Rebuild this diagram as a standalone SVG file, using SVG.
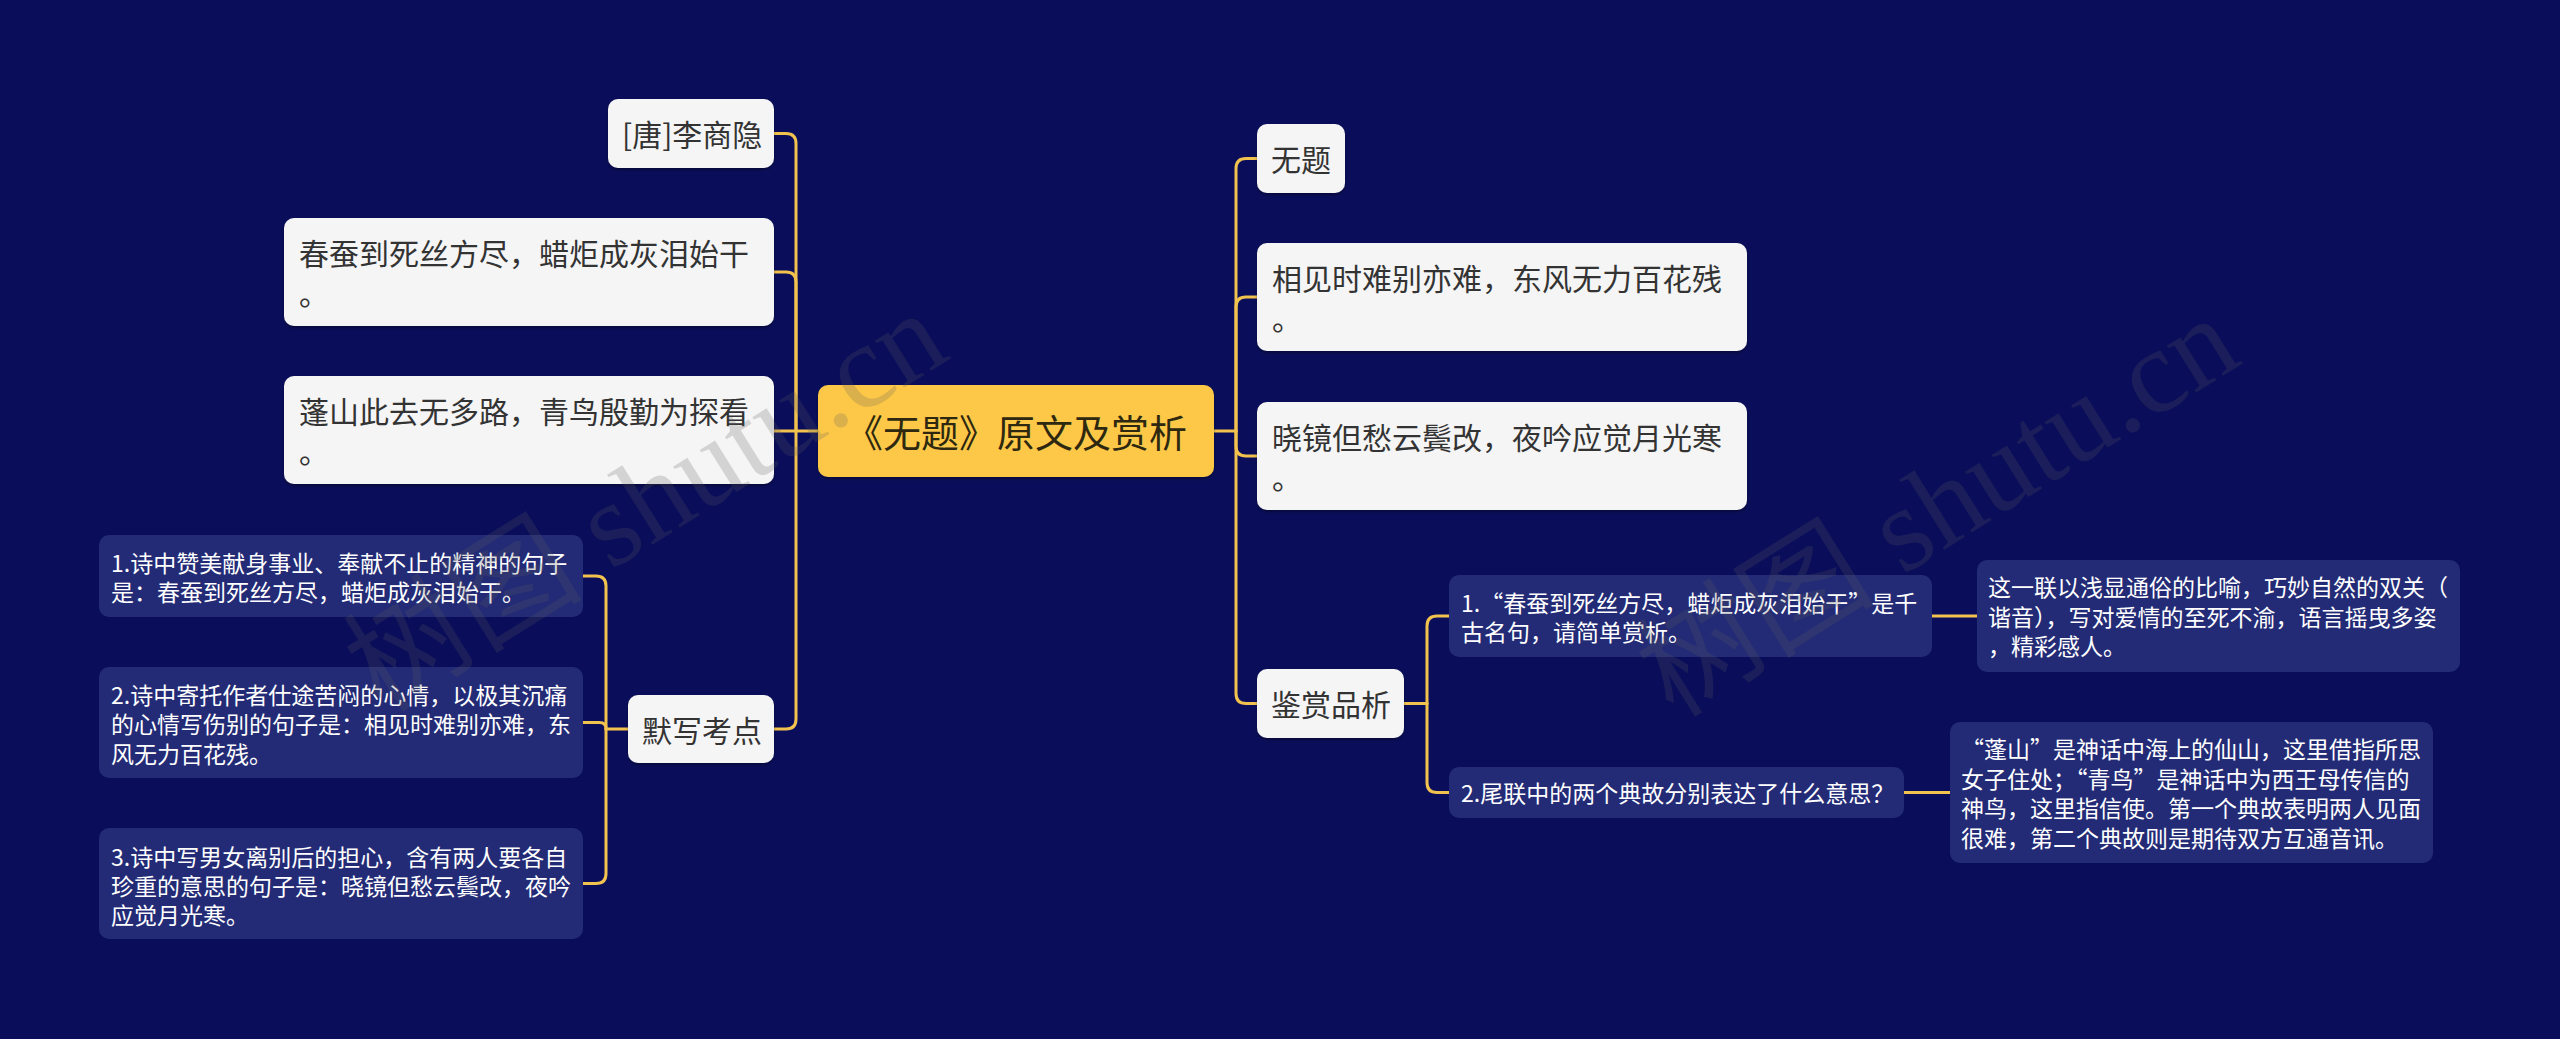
<svg xmlns="http://www.w3.org/2000/svg" width="2560" height="1039" viewBox="0 0 2560 1039">
<defs>
<style>
.bg{fill:#0A0E5A}
.lt{fill:#F5F5F5}
.dk{fill:#232B76}
.rt{fill:#FDC847}
.t30{font-family:"Noto Sans CJK SC","Microsoft YaHei",sans-serif;font-size:30px;fill:#333333}
.t23{font-family:"Noto Sans CJK SC","Microsoft YaHei",sans-serif;font-size:23px;fill:#FFFFFF}
.troot{font-family:"Noto Sans CJK SC","Microsoft YaHei",sans-serif;font-size:38px;fill:#2E2810}
.wm{font-family:"Liberation Serif","Noto Sans CJK SC",serif;font-size:120px;fill:#5A5A5A;fill-opacity:0.22}
#connectors path{fill:none;stroke:#F2C24F;stroke-width:3;stroke-linecap:round}
</style>
<filter id="sh" x="-5%" y="-10%" width="110%" height="130%">
<feDropShadow dx="0" dy="2" stdDeviation="1.5" flood-color="#000000" flood-opacity="0.35"/>
</filter>
</defs>
<rect class="bg" x="0" y="0" width="2560" height="1039"/>

<g id="connectors">
<path d="M818 431H774"/>
<path d="M796 431V143.5Q796 133.5 786 133.5H774"/>
<path d="M796 431V282Q796 272 786 272H774"/>
<path d="M796 431V719Q796 729 786 729H774"/>
<path d="M1214 431H1236"/>
<path d="M1236 431V168.5Q1236 158.5 1246 158.5H1257"/>
<path d="M1236 431V307Q1236 297 1246 297H1257"/>
<path d="M1236 431V446Q1236 456 1246 456H1257"/>
<path d="M1236 431V693.5Q1236 703.5 1246 703.5H1257"/>
<path d="M628 729H606"/>
<path d="M606 729V586Q606 576 596 576H583"/>
<path d="M606 729Q606 722.5 599.5 722.5H583"/>
<path d="M606 729V873.5Q606 883.5 596 883.5H583"/>
<path d="M1404 703.5H1427"/>
<path d="M1427 703.5V626Q1427 616 1437 616H1449"/>
<path d="M1427 703.5V782.5Q1427 792.5 1437 792.5H1449"/>
<path d="M1932 616H1977"/>
<path d="M1904 792.5H1950"/>
</g>

<g id="root">
<rect class="rt" x="818" y="385" width="396" height="92" rx="10" filter="url(#sh)"/>
<text class="troot" x="1016" y="447" text-anchor="middle">《无题》原文及赏析</text>
</g>

<g id="n-author">
<rect class="lt" x="608" y="99" width="166" height="69" rx="10" filter="url(#sh)"/>
<text class="t30" x="622" y="146">[唐]李商隐</text>
</g>
<g id="n-line1">
<rect class="lt" x="284" y="218" width="490" height="108" rx="10" filter="url(#sh)"/>
<text class="t30" x="299" y="265"><tspan x="299" y="265">春蚕到死丝方尽，蜡炬成灰泪始干</tspan><tspan x="299" y="305">。</tspan></text>
</g>
<g id="n-line2">
<rect class="lt" x="284" y="376" width="490" height="108" rx="10" filter="url(#sh)"/>
<text class="t30" x="299" y="423"><tspan x="299" y="423">蓬山此去无多路，青鸟殷勤为探看</tspan><tspan x="299" y="463">。</tspan></text>
</g>
<g id="n-moxie">
<rect class="lt" x="628" y="695" width="146" height="68" rx="10" filter="url(#sh)"/>
<text class="t30" x="642" y="742">默写考点</text>
</g>
<g id="n-mx1">
<rect class="dk" x="99" y="535" width="484" height="82" rx="10"/>
<text class="t23"><tspan x="111" y="572">1.诗中赞美献身事业、奉献不止的精神的句子</tspan><tspan x="111" y="601.3">是：春蚕到死丝方尽，蜡炬成灰泪始干。</tspan></text>
</g>
<g id="n-mx2">
<rect class="dk" x="99" y="667" width="484" height="111" rx="10"/>
<text class="t23"><tspan x="111" y="704">2.诗中寄托作者仕途苦闷的心情，以极其沉痛</tspan><tspan x="111" y="733.3">的心情写伤别的句子是：相见时难别亦难，东</tspan><tspan x="111" y="762.6">风无力百花残。</tspan></text>
</g>
<g id="n-mx3">
<rect class="dk" x="99" y="828" width="484" height="111" rx="10"/>
<text class="t23"><tspan x="111" y="865.5">3.诗中写男女离别后的担心，含有两人要各自</tspan><tspan x="111" y="894.8">珍重的意思的句子是：晓镜但愁云鬓改，夜吟</tspan><tspan x="111" y="924">应觉月光寒。</tspan></text>
</g>

<g id="n-title">
<rect class="lt" x="1257" y="124" width="88" height="69" rx="10" filter="url(#sh)"/>
<text class="t30" x="1271" y="171">无题</text>
</g>
<g id="n-line3">
<rect class="lt" x="1257" y="243" width="490" height="108" rx="10" filter="url(#sh)"/>
<text class="t30"><tspan x="1272" y="290">相见时难别亦难，东风无力百花残</tspan><tspan x="1272" y="330">。</tspan></text>
</g>
<g id="n-line4">
<rect class="lt" x="1257" y="402" width="490" height="108" rx="10" filter="url(#sh)"/>
<text class="t30"><tspan x="1272" y="449">晓镜但愁云鬓改，夜吟应觉月光寒</tspan><tspan x="1272" y="489">。</tspan></text>
</g>
<g id="n-jianshang">
<rect class="lt" x="1257" y="669" width="147" height="69" rx="10" filter="url(#sh)"/>
<text class="t30" x="1271" y="716">鉴赏品析</text>
</g>
<g id="n-q1">
<rect class="dk" x="1449" y="575" width="483" height="82" rx="10"/>
<text class="t23"><tspan x="1461" y="612">1.“春蚕到死丝方尽，蜡炬成灰泪始干”是千</tspan><tspan x="1461" y="641">古名句，请简单赏析。</tspan></text>
</g>
<g id="n-a1">
<rect class="dk" x="1977" y="560" width="483" height="112" rx="10"/>
<text class="t23"><tspan x="1988" y="596">这一联以浅显通俗的比喻，巧妙自然的双关（</tspan><tspan x="1988" y="625.5">谐音），写对爱情的至死不渝，语言摇曳多姿</tspan><tspan x="1988" y="655">，精彩感人。</tspan></text>
</g>
<g id="n-q2">
<rect class="dk" x="1449" y="767" width="455" height="51" rx="10"/>
<text class="t23" x="1461" y="801.5">2.尾联中的两个典故分别表达了什么意思？</text>
</g>
<g id="n-a2">
<rect class="dk" x="1950" y="722" width="483" height="141" rx="10"/>
<text class="t23"><tspan x="1961" y="758">“蓬山”是神话中海上的仙山，这里借指所思</tspan><tspan x="1961" y="787.5">女子住处；“青鸟”是神话中为西王母传信的</tspan><tspan x="1961" y="817">神鸟，这里指信使。第一个典故表明两人见面</tspan><tspan x="1961" y="846.5">很难，第二个典故则是期待双方互通音讯。</tspan></text>
</g>

<g id="watermarks">
<text class="wm" transform="translate(648,505) rotate(-32)" x="0" y="36" text-anchor="middle">树图 shutu.cn</text>
<text class="wm" transform="translate(1940,510) rotate(-32)" x="0" y="36" text-anchor="middle">树图 shutu.cn</text>
</g>
</svg>
